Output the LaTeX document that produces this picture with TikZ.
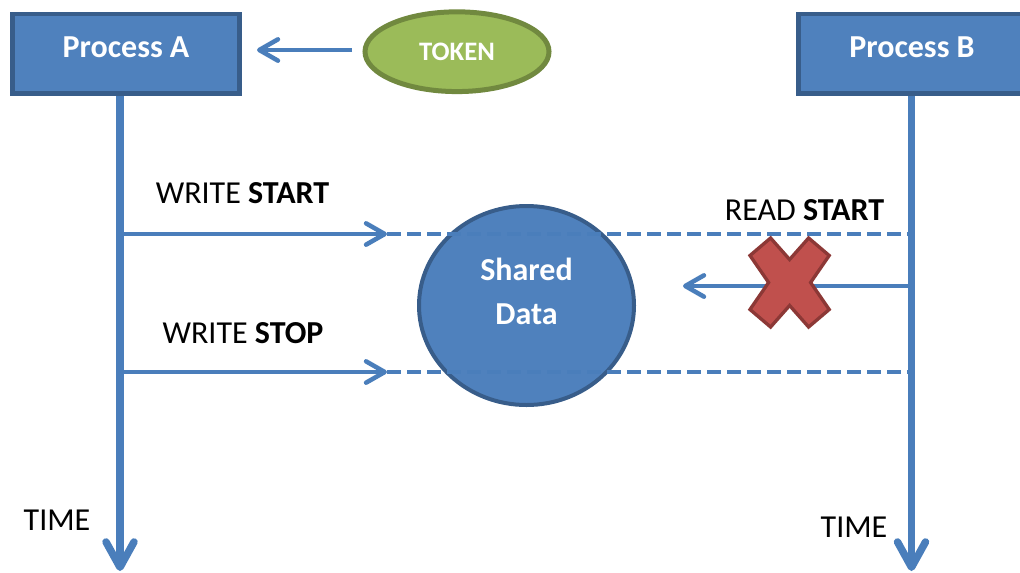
\documentclass[tikz,border=0pt]{standalone}
\usepackage{fontspec}
\setmainfont{Carlito}
\usetikzlibrary{arrows.meta,shapes.geometric}
\definecolor{boxfill}{HTML}{4F81BD}
\definecolor{boxline}{HTML}{385D8A}
\definecolor{flowblue}{HTML}{4A7EBB}
\definecolor{tokfill}{HTML}{9BBB59}
\definecolor{tokline}{HTML}{71893F}
\definecolor{xfill}{HTML}{C0504D}
\definecolor{xline}{HTML}{8C3836}
\begin{document}
\begin{tikzpicture}[x=0.75pt,y=-0.75pt,
  procbox/.style={draw=boxline, fill=boxfill, line width=3.5pt,
    minimum width=170pt, minimum height=59.6pt, inner sep=0pt,
    text=white, font=\fontsize{24}{29}\selectfont\bfseries,
    text height=15.2pt, text depth=10pt},
  tokenshape/.style={ellipse, draw=tokline, fill=tokfill, line width=3.75pt,
    minimum width=138pt, minimum height=59.8pt, inner sep=0pt,
    text=white, font=\fontsize{20}{24}\selectfont\bfseries},
  datashape/.style={ellipse, draw=boxline, fill=boxfill, line width=3pt,
    minimum width=161.25pt, minimum height=149.25pt, inner sep=0pt},
  datatext/.style={text=white, align=center, inner sep=0pt,
    font=\fontsize{24}{33}\selectfont\bfseries},
  lbl/.style={inner sep=0pt, font=\fontsize{24}{29}\selectfont},
  timeline/.style={draw=flowblue, line width=5.6pt,
    -{Straight Barb[round, length=19pt, width=21pt]}},
  flow/.style={draw=flowblue, line width=3.4pt,
    -{Straight Barb[round, length=14pt, width=16pt]}},
  dashflow/.style={draw=flowblue, line width=3.4pt, dash pattern=on 10.5pt off 4.5pt},
  xmark/.style={draw=xline, fill=xfill, line width=2.5pt, line join=miter}
]
\useasboundingbox (0,0) rectangle (1020,572);
\clip (0,0) rectangle (1020,572);

% process boxes and the token
\node[procbox] (pa) at (126,53.8) {Process A};
\node[procbox] (pb) at (912,53.8) {Process B};
\node[tokenshape] (tok) at (457,51.7) {TOKEN};

% time axes
\coordinate (endA) at (120,571);
\coordinate (endB) at (911.5,571);
\draw[timeline] (pa.south -| endA) -- (endA);
\draw[timeline] (pb.south -| endB) -- (endB);

% token handed to process A
\coordinate (tokS) at (352,50);
\coordinate (tokA) at (257,50);
\draw[flow] (tokS) -- (tokA);

% shared data
\node[datashape] (sd) at (526.5,305.5) {};
\node[datatext] (sdt) at (526.5,291) {Shared\\Data};

% write start
\coordinate (wsA) at (120,234);
\coordinate (wsM) at (387,234);
\coordinate (wsB) at (911.5,234);
\draw[flow] (wsA) -- (wsM);
\draw[dashflow] (wsM) -- (wsB);

% write stop
\coordinate (wpA) at (120,372);
\coordinate (wpM) at (387,372);
\coordinate (wpB) at (911.5,372);
\draw[flow] (wpA) -- (wpM);
\draw[dashflow] (wpM) -- (wpB);

% blocked read
\coordinate (rdB) at (911.5,286);
\coordinate (rdM) at (683,286);
\draw[flow] (rdB) -- (rdM);

% cross over the read
\draw[xmark] (789.6,282.5)
  ++(0,-23) -- ++(19,-21.5) -- ++(20.6,17.5) -- ++(-18.6,27)
  -- ++(18.6,27) -- ++(-20.6,17.5) -- ++(-19,-21.5)
  -- ++(-19,21.5) -- ++(-20.6,-17.5) -- ++(18.6,-27)
  -- ++(-18.6,-27) -- ++(20.6,-17.5) -- cycle;

% labels
\node[lbl] (lws) at (242.5,193) {WRITE \textbf{START}};
\node[lbl] (lwp) at (243,333) {WRITE \textbf{STOP}};
\node[lbl] (lrd) at (804.5,210) {READ \textbf{START}};
\node[lbl] (ltA) at (57,520) {TIME};
\node[lbl] (ltB) at (854,527) {TIME};
\end{tikzpicture}
\end{document}
